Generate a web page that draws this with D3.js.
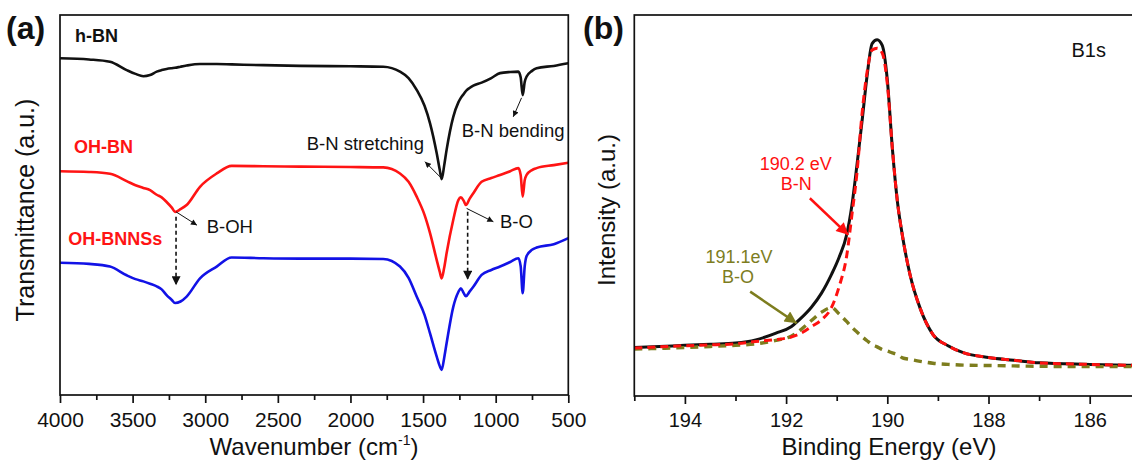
<!DOCTYPE html>
<html>
<head>
<meta charset="utf-8">
<script src="https://cdn.jsdelivr.net/npm/d3@7"></script>
<style>
  body { margin: 0; background: #fff; }
  svg { display: block; }
</style>
</head>
<body>
<svg id="fig" width="1132" height="461"></svg>
<script>
// ---------- (a) FTIR spectra, transmittance (a.u., curves offset) ----------
const wavenumbers = [4000, 3800, 3656, 3541, 3480, 3426, 3380, 3334, 3300, 3266, 3230, 3208, 3170, 3128,
  3036, 2921, 2818, 2600, 2347, 2000, 1774, 1659, 1600, 1544, 1490, 1452, 1406, 1385, 1372, 1355, 1338,
  1292, 1257, 1240, 1220, 1205, 1180, 1154, 1097, 1030, 970, 900, 844, 828, 814, 800, 787, 750, 718, 600, 500];
const hBN = [88.6, 88.3, 87.7, 85.5, 84.5, 83.9, 84.2, 85.1, 85.5, 85.8, 86.0, 86.1, 86.4, 86.7,
  87.1, 87.1, 87.0, 86.8, 86.6, 86.5, 86.4, 85.1, 83.4, 80.3, 76.1, 71.5, 63.6, 59.2, 56.8, 60.3, 64.5,
  73.2, 77.0, 78.2, 79.2, 80.0, 80.8, 81.4, 82.2, 83.4, 84.7, 85.0, 85.1, 83.6, 78.9, 82.4, 83.8, 85.3, 86.0, 86.6, 87.3];
const ohBN = [58.9, 58.7, 58.2, 56.3, 55.2, 54.5, 53.9, 52.7, 52.0, 50.8, 49.3, 48.2, 48.9, 50.0,
  54.8, 58.3, 60.3, 60.2, 60.1, 60.0, 59.9, 58.3, 56.1, 52.2, 47.4, 42.6, 35.5, 32.4, 30.7, 33.4, 37.3,
  46.1, 51.3, 52.0, 51.1, 50.0, 51.6, 53.1, 56.1, 57.1, 57.9, 58.9, 59.7, 57.9, 52.2, 56.6, 57.9, 59.2, 59.7, 60.5, 61.1];
const ohBNNSs = [34.8, 34.5, 33.8, 31.5, 30.5, 29.9, 29.3, 28.6, 27.8, 26.3, 25.0, 24.2, 24.6, 25.9,
  30.7, 33.8, 36.2, 36.0, 35.9, 35.9, 35.8, 33.8, 30.8, 25.9, 21.1, 16.2, 10.1, 7.6, 6.6, 9.7, 13.6,
  23.2, 27.1, 28.1, 26.8, 26.0, 27.2, 28.5, 31.6, 32.9, 33.8, 35.0, 36.0, 33.9, 26.8, 33.9, 36.6, 38.2, 38.8, 39.7, 41.3];
const wnTicks = [4000, 3500, 3000, 2500, 2000, 1500, 1000, 500];
const wnMinor = [3750, 3250, 2750, 2250, 1750, 1250, 750];

// ---------- (b) XPS B1s region ----------
const energies = [195, 194.5, 194, 193.5, 193, 192.6, 192.2, 191.9, 191.7, 191.5, 191.3, 191.1, 190.95,
  190.8, 190.7, 190.6, 190.5, 190.4, 190.3, 190.2, 190.1, 190.0, 189.9, 189.8, 189.7, 189.55, 189.35,
  189.1, 188.8, 188.5, 188, 187.5, 187, 186, 185];
const envelope = [12.7, 13.0, 13.3, 13.6, 13.9, 14.7, 16.5, 18.2, 20.5, 23.3, 27.0, 32.0, 36.5,
  42.5, 50.0, 60.6, 72.0, 84.0, 92.5, 93.5, 92.0, 83.0, 65.0, 51.0, 42.0, 31.8, 23.0,
  16.2, 13.2, 11.4, 10.1, 9.4, 8.7, 8.3, 8.0];
const fitBN = [12.6, 12.9, 13.2, 13.4, 13.7, 14.3, 14.8, 15.5, 16.5, 18.2, 20.0, 23.3, 28.8,
  37.0, 47.5, 58.5, 74.0, 85.0, 90.8, 91.3, 90.0, 82.0, 65.0, 51.0, 42.0, 31.8, 23.0,
  16.2, 13.2, 11.4, 10.1, 9.4, 8.7, 8.3, 8.0];
const fitBO = [12.3, 12.5, 12.7, 13.0, 13.3, 13.7, 14.6, 15.7, 17.5, 19.8, 22.0, 23.2, 21.5,
  19.5, 18.0, 16.8, 15.6, 14.5, 13.5, 12.9, 12.2, 11.8, 11.3, 10.9, 10.0, 9.6, 9.1,
  8.6, 8.3, 8.1, 8.0, 7.9, 7.8, 7.7, 7.7];
const beTicks = [194, 192, 190, 188, 186];
const beMinor = [195, 193, 191, 189, 187, 185];

const FONT = "Arial, 'Liberation Sans', sans-serif";
const svg = d3.select("#fig");

// ---------- scales ----------
const xA = d3.scaleLinear().domain([4000, 500]).range([60, 568.3]);
const yA = d3.scaleLinear().domain([0, 100]).range([395, 15]);
const xB = d3.scaleLinear().domain([195, 185]).range([634.3, 1140.3]);
const yB = d3.scaleLinear().domain([0, 100]).range([396, 15]);

// ---------- markers ----------
const defs = svg.append("defs");
function marker(id, color, w, h) {
  defs.append("marker")
    .attr("id", id).attr("markerUnits", "userSpaceOnUse")
    .attr("viewBox", "0 0 10 10").attr("refX", 10).attr("refY", 5)
    .attr("markerWidth", w).attr("markerHeight", h).attr("orient", "auto")
    .append("path").attr("d", "M0,0 L10,5 L0,10 Z").attr("fill", color);
}
marker("headSmall", "#111", 7, 6);
marker("headDash", "#111", 11, 9);
marker("headRed", "#ff1010", 14, 12);
marker("headOlive", "#7d7d1e", 14, 12);

// ---------- helpers ----------
function frame(x0, y0, x1, y1) {
  svg.append("rect").attr("x", x0).attr("y", y0)
    .attr("width", x1 - x0).attr("height", y1 - y0)
    .attr("fill", "none").attr("stroke", "#111").attr("stroke-width", 1.7);
}
function bottomAxis(x, yPix, major, minor, fontSize) {
  const gMaj = svg.append("g").attr("transform", `translate(0,${yPix})`)
    .call(d3.axisBottom(x).tickValues(major).tickSize(8).tickPadding(9).tickFormat(d3.format("d")));
  gMaj.select(".domain").remove();
  gMaj.selectAll("line").attr("stroke", "#111").attr("stroke-width", 1.7);
  gMaj.selectAll("text").attr("font-family", FONT).attr("font-size", fontSize).attr("fill", "#111");
  const gMin = svg.append("g").attr("transform", `translate(0,${yPix})`)
    .call(d3.axisBottom(x).tickValues(minor).tickSize(5).tickFormat(""));
  gMin.select(".domain").remove();
  gMin.selectAll("line").attr("stroke", "#111").attr("stroke-width", 1.7);
}
function text(x, y, str, opts = {}) {
  return svg.append("text").attr("x", x).attr("y", y)
    .attr("font-family", FONT).attr("font-size", opts.size || 18)
    .attr("font-weight", opts.bold ? "bold" : "normal")
    .attr("fill", opts.color || "#111")
    .attr("text-anchor", opts.anchor || "start")
    .text(str);
}
function arrow(x1, y1, x2, y2, color, width, head, dash) {
  const l = svg.append("line").attr("x1", x1).attr("y1", y1).attr("x2", x2).attr("y2", y2)
    .attr("stroke", color).attr("stroke-width", width).attr("marker-end", `url(#${head})`);
  if (dash) l.attr("stroke-dasharray", dash);
}

// ======================= panel (a) =======================
const lineA = d3.line().x((d, i) => xA(wavenumbers[i])).y(d => yA(d)).curve(d3.curveMonotoneX);
[[hBN, "#111111"], [ohBN, "#ff1414"], [ohBNNSs, "#1212e6"]].forEach(([vals, col]) => {
  svg.append("path").datum(vals).attr("d", lineA)
    .attr("fill", "none").attr("stroke", col).attr("stroke-width", 2.6)
    .attr("stroke-linejoin", "round");
});
frame(60, 15, 568.3, 395);
bottomAxis(xA, 395, wnTicks, wnMinor, 21);

// series names
text(xA(3897), yA(93.0), "h-BN", { bold: true, size: 18 });
text(xA(3904), yA(63.7), "OH-BN", { bold: true, size: 18, color: "#ff1414" });
text(xA(3943), yA(39.5), "OH-BNNSs", { bold: true, size: 18, color: "#ff1414" });

// band assignments
text(xA(1494), yA(64.5), "B-N stretching", { size: 18.5, anchor: "end" });
arrow(xA(1383), yA(57.4), xA(1487), yA(61.4), "#111", 1, "headSmall");
text(xA(1234), yA(68.0), "B-N bending", { size: 18.5 });
arrow(xA(822), yA(78.2), xA(879), yA(73.2), "#111", 1, "headSmall");
text(xA(2990), yA(42.6), "B-OH", { size: 18.5 });
arrow(xA(3201), yA(48.2), xA(3057), yA(44.7), "#111", 1, "headSmall");
text(xA(970), yA(43.9), "B-O", { size: 18.5 });
arrow(xA(1200), yA(49.1), xA(1016), yA(45.6), "#111", 1, "headSmall");
arrow(xA(3201), yA(46.9), xA(3201), yA(28.9), "#111", 1.6, "headDash", "4,3");
arrow(xA(1193), yA(48.2), xA(1193), yA(30.3), "#111", 1.6, "headDash", "4,3");

// axis titles
const wt = svg.append("text").attr("x", 314).attr("y", 455)
  .attr("font-family", FONT).attr("font-size", 24).attr("fill", "#111").attr("text-anchor", "middle");
wt.append("tspan").text("Wavenumber (cm");
wt.append("tspan").attr("font-size", 14).attr("dy", -10).text("-1");
wt.append("tspan").attr("dy", 10).text(")");
svg.append("text").attr("transform", "translate(34,210) rotate(-90)")
  .attr("font-family", FONT).attr("font-size", 25).attr("fill", "#111").attr("text-anchor", "middle")
  .text("Transmittance (a.u.)");
text(6, 39, "(a)", { bold: true, size: 32 });

// ======================= panel (b) =======================
const lineB = vals => d3.line().x((d, i) => xB(energies[i])).y(d => yB(d)).curve(d3.curveMonotoneX)(vals);
svg.append("path").attr("d", lineB(envelope)).attr("fill", "none")
  .attr("stroke", "#111").attr("stroke-width", 3);
svg.append("path").attr("d", lineB(fitBO)).attr("fill", "none")
  .attr("stroke", "#7d7d1e").attr("stroke-width", 3.4).attr("stroke-dasharray", "8,6");
svg.append("path").attr("d", lineB(fitBN)).attr("fill", "none")
  .attr("stroke", "#ff1010").attr("stroke-width", 3).attr("stroke-dasharray", "8,5");
frame(634.3, 15, 1140.3, 396);
bottomAxis(xB, 396, beTicks, beMinor, 20);

text(xB(186.36), yB(89.1), "B1s", { size: 20 });
text(xB(191.81), yB(59.3), "190.2 eV", { size: 18, color: "#ff1010", anchor: "middle" });
text(xB(191.8), yB(54.1), "B-N", { size: 18, color: "#ff1010", anchor: "middle" });
arrow(xB(191.53), yB(51.9), xB(190.77), yB(42.3), "#ff1010", 2.5, "headRed");
text(xB(192.93), yB(34.9), "191.1eV", { size: 18, color: "#7d7d1e", anchor: "middle" });
text(xB(192.95), yB(29.7), "B-O", { size: 18, color: "#7d7d1e", anchor: "middle" });
arrow(xB(192.71), yB(27.4), xB(191.79), yB(19.1), "#7d7d1e", 2.5, "headOlive");

text(889, 455, "Binding Energy (eV)", { size: 24, anchor: "middle" });
svg.append("text").attr("transform", "translate(615,210) rotate(-90)")
  .attr("font-family", FONT).attr("font-size", 24).attr("fill", "#111").attr("text-anchor", "middle")
  .text("Intensity (a.u.)");
text(583, 39, "(b)", { bold: true, size: 32 });
</script>
</body>
</html>
